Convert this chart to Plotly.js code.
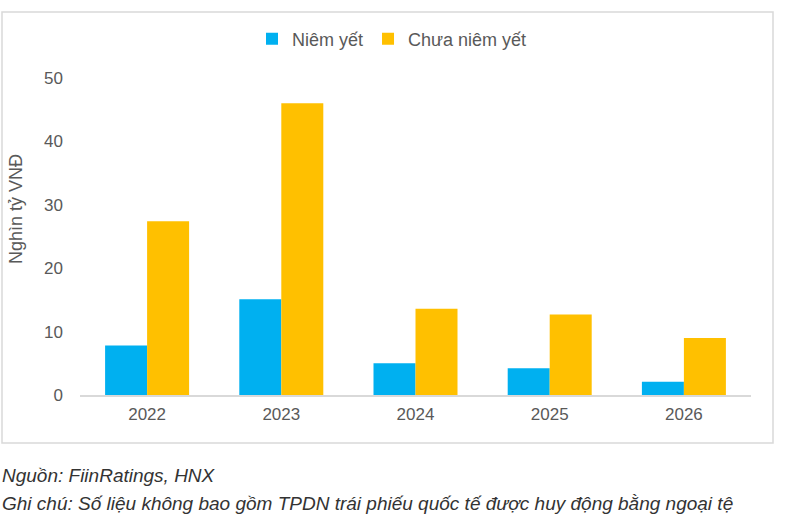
<!DOCTYPE html>
<html>
<head>
<meta charset="utf-8">
<script src="https://cdn.plot.ly/plotly-3.0.1.min.js"></script>
<style>html,body{margin:0;padding:0;background:#fff;}</style>
</head>
<body>
<div id="chart" style="width:800px;height:520px;"></div>
<script>
const years = ["2022", "2023", "2024", "2025", "2026"];
const listed = [7.8, 15.1, 5.0, 4.2, 2.1];
const unlisted = [27.4, 46.0, 13.6, 12.7, 9.0];
const seriesNames = ["Niêm yết", "Chưa niêm yết"];
const yTicks = [0, 10, 20, 30, 40, 50];
const yTitle = "Nghìn tỷ VNĐ";
const sourceNote = "Nguồn: FiinRatings, HNX";
const footNote = "Ghi chú: Số liệu không bao gồm TPDN trái phiếu quốc tế được huy động bằng ngoại tệ";

const font = "Liberation Sans, Arial, sans-serif";
const data = [
  {type: "bar", x: years, y: listed, name: seriesNames[0], marker: {color: "#00B0F0"}, hoverinfo: "y"},
  {type: "bar", x: years, y: unlisted, name: seriesNames[1], marker: {color: "#FFC000"}, hoverinfo: "y"}
];

// plot area in pixels: x 80..751, y 78..395
const L = 80, R = 751, T = 78, B = 395;
const px = v => (v - L) / (R - L);
const py = v => (B - v) / (B - T);

const layout = {
  width: 800, height: 520,
  margin: {l: L, r: 800 - R, t: T, b: 520 - B},
  paper_bgcolor: "#fff", plot_bgcolor: "#fff",
  font: {family: font, color: "#595959", size: 17},
  barmode: "group", bargap: 0.374, bargroupgap: 0,
  showlegend: true,
  legend: {orientation: "h", x: px(392), xanchor: "center", y: py(39), yanchor: "middle",
           font: {size: 18, color: "#595959"}, itemwidth: 30, tracegroupgap: 0, bgcolor: "rgba(0,0,0,0)"},
  xaxis: {type: "category", showgrid: false, zeroline: false, showline: true, linecolor: "#D9D9D9", linewidth: 2,
          ticks: "", tickfont: {size: 17, color: "#595959"}, ticklabelstandoff: 3},
  yaxis: {range: [0, 50], tickvals: yTicks, showgrid: false, zeroline: false, showline: false,
          ticks: "", tickfont: {size: 17, color: "#595959"}, ticklabelstandoff: 16},
  shapes: [
    {type: "rect", xref: "paper", yref: "paper", x0: px(2), x1: px(773), y0: py(12), y1: py(443),
     line: {color: "#D9D9D9", width: 1.5}, fillcolor: "rgba(0,0,0,0)", layer: "below"}
  ],
  annotations: [
    {xref: "paper", yref: "paper", x: px(16), y: py(209), xanchor: "center", yanchor: "middle", showarrow: false,
     textangle: -90, text: yTitle, font: {size: 18, color: "#595959", family: font}},
    {xref: "paper", yref: "paper", x: px(0), y: py(475), xanchor: "left", yanchor: "middle", showarrow: false,
     text: "<i>" + sourceNote + "</i>", font: {size: 19, color: "#333333", family: font}},
    {xref: "paper", yref: "paper", x: px(0), y: py(503), xanchor: "left", yanchor: "middle", showarrow: false,
     text: "<i>" + footNote + "</i>", font: {size: 19, color: "#333333", family: font}}
  ]
};
Plotly.newPlot("chart", data, layout, {displayModeBar: false, staticPlot: true});
</script>
</body>
</html>
